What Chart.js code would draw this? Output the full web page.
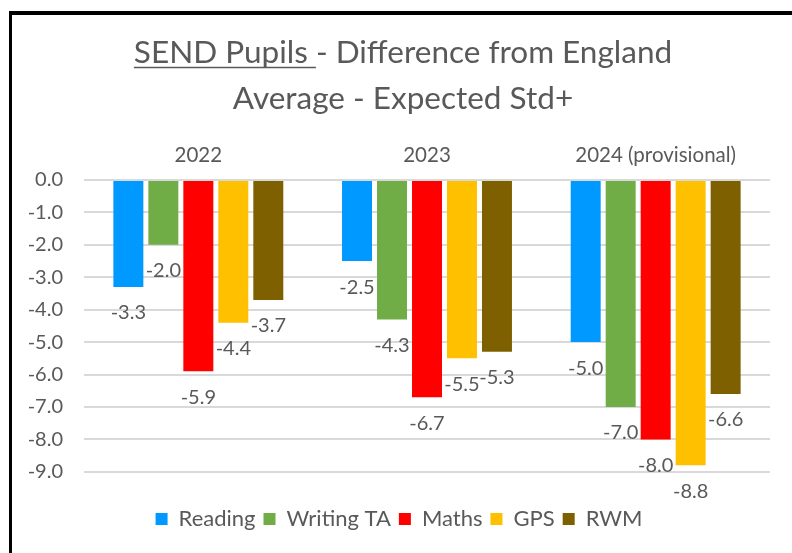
<!DOCTYPE html>
<html>
<head>
<meta charset="utf-8">
<script src="https://cdn.jsdelivr.net/npm/chart.js@4/dist/chart.umd.min.js"></script>
<style>
	body { margin: 0; background: #fff; }
	.wrap { position: relative; width: 792px; height: 553px; overflow: hidden; }
	.frame {
		position: absolute; left: 9px; top: 11px; width: 800px; height: 560px;
		border-top: 4px solid #000; border-left: 3px solid #000; pointer-events: none;
	}
</style>
</head>
<body>
<div class="wrap">
	<canvas class="chart" width="792" height="553"></canvas>
	<div class="frame"></div>
</div>
<script>
const categories = ['2022', '2023', '2024 (provisional)'];
const reading = [-3.3, -2.5, -5.0];
const writingTA = [-2.0, -4.3, -7.0];
const maths = [-5.9, -6.7, -8.0];
const gps = [-4.4, -5.5, -8.8];
const rwm = [-3.7, -5.3, -6.6];
const yTicks = [0.0, -1.0, -2.0, -3.0, -4.0, -5.0, -6.0, -7.0, -8.0, -9.0];

const grey = '#595959';
const font = 'Lato';

const titlePlugin = {
	id: 'titleUnderline',
	afterDraw: (chart) => {
		const ctx = chart.ctx;
		const cx = 403;
		ctx.save();
		ctx.font = `31.5px ${font}`;
		ctx.fillStyle = grey;
		ctx.textBaseline = 'alphabetic';
		const part1 = 'SEND Pupils ';
		const part2 = '- Difference from England';
		const w1 = ctx.measureText(part1).width;
		const w2 = ctx.measureText(part2).width;
		const x0 = cx - (w1 + w2) / 2;
		ctx.textAlign = 'left';
		ctx.fillText(part1, x0, 63);
		ctx.fillText(part2, x0 + w1, 63);
		ctx.strokeStyle = grey;
		ctx.lineWidth = 1.5;
		ctx.beginPath();
		ctx.moveTo(x0, 67.5);
		ctx.lineTo(x0 + w1, 67.5);
		ctx.stroke();
		ctx.textAlign = 'center';
		ctx.fillText('Average - Expected Std+', cx, 109);
		ctx.restore();
	},
};

const valueLabels = {
	id: 'valueLabels',
	afterDatasetsDraw: (chart) => {
		const ctx = chart.ctx;
		ctx.save();
		ctx.font = `20px ${font}`;
		ctx.fillStyle = grey;
		ctx.textAlign = 'center';
		ctx.textBaseline = 'middle';
		chart.data.datasets.forEach((ds, i) => {
			chart.getDatasetMeta(i).data.forEach((bar, j) => {
				ctx.fillText(ds.data[j].toFixed(1), bar.x, bar.y + 26);
			});
		});
		ctx.restore();
	},
};

const ctx = document.querySelector('.chart');
new Chart(ctx, {
	type: 'bar',
	data: {
		labels: categories,
		datasets: [
			{ label: 'Reading', data: reading, backgroundColor: '#0099FF' },
			{ label: 'Writing TA', data: writingTA, backgroundColor: '#70AD47' },
			{ label: 'Maths', data: maths, backgroundColor: '#FF0000' },
			{ label: 'GPS', data: gps, backgroundColor: '#FFC000' },
			{ label: 'RWM', data: rwm, backgroundColor: '#7F6000' },
		],
	},
	options: {
		responsive: false,
		animation: false,
		devicePixelRatio: 1,
		categoryPercentage: 0.765,
		barPercentage: 0.857,
		layout: { padding: { top: 120, left: 28, right: 22, bottom: 13 } },
		scales: {
			x: {
				position: 'top',
				grid: { display: false, drawTicks: false },
				border: { display: false },
				ticks: { color: grey, font: { family: font, size: 20.5 }, padding: 12 },
				afterFit: (scale) => { scale.height = 60; },
			},
			y: {
				min: Math.min(...yTicks),
				max: Math.max(...yTicks),
				grid: { color: '#D9D9D9', lineWidth: 2, drawTicks: false },
				border: { display: false },
				ticks: {
					stepSize: 1,
					color: grey,
					font: { family: font, size: 20 },
					padding: 21,
					callback: (v) => v.toFixed(1),
				},
				afterFit: (scale) => { scale.width = 56; },
			},
		},
		plugins: {
			title: { display: false },
			tooltip: { enabled: false },
			legend: {
				position: 'bottom',
				title: { display: true, text: '', font: { size: 1 }, padding: { top: 27, bottom: 0 } },
				labels: {
					color: grey,
					font: { family: font, size: 22 },
					boxWidth: 12,
					boxHeight: 12,
					padding: 8,
				},
			},
		},
	},
	plugins: [titlePlugin, valueLabels],
});
</script>
</body>
</html>
